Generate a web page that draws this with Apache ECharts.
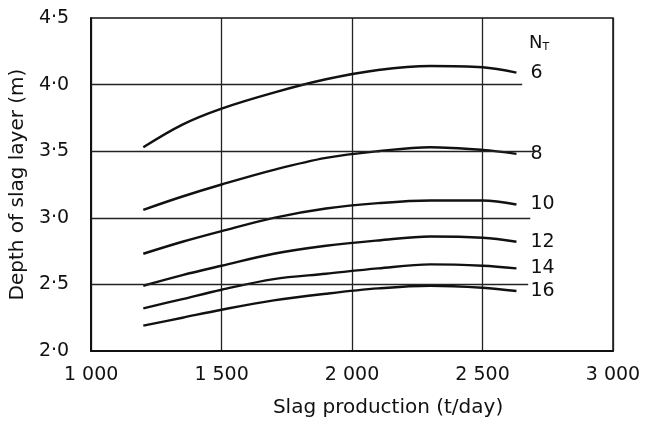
<!DOCTYPE html>
<html>
<head>
<meta charset="utf-8">
<script src="https://cdn.jsdelivr.net/npm/echarts@6/dist/echarts.min.js"></script>
<style>
  html, body { margin: 0; padding: 0; background: #fff; }
  #main { width: 649px; height: 423px; }
</style>
</head>
<body>
<div id="main"></div>
<script>
// slag production (t/day)
var xProd = [1200, 1350, 1500, 1700, 1900, 2100, 2300, 2500, 2630];
var nrNames = ['6', '8', '10', '12', '14', '16'];
// depth of slag layer (m) for each Nr
var depth6  = [3.53, 3.70, 3.82, 3.94, 4.04, 4.11, 4.14, 4.13, 4.09];
var depth8  = [3.06, 3.16, 3.25, 3.36, 3.45, 3.50, 3.53, 3.51, 3.48];
var depth10 = [2.73, 2.82, 2.90, 3.00, 3.07, 3.11, 3.13, 3.13, 3.10];
var depth12 = [2.49, 2.57, 2.64, 2.73, 2.79, 2.83, 2.86, 2.85, 2.82];
var depth14 = [2.32, 2.39, 2.46, 2.54, 2.58, 2.62, 2.65, 2.64, 2.62];
var depth16 = [2.19, 2.25, 2.31, 2.38, 2.43, 2.47, 2.49, 2.475, 2.45];
var allDepth = [depth6, depth8, depth10, depth12, depth14, depth16];

// horizontal rules and where they stop on the x scale
var ruleY = [2.5, 3.0, 3.5, 4.0];
var ruleEnd = [2675, 2683, 2700, 2652];

var myChart = echarts.init(document.getElementById('main'));
var font = 'DejaVu Sans';

var series = [];
for (let i = 0; i < allDepth.length; i++) {
    var pts = [];
    for (let j = 0; j < xProd.length; j++) {
        pts.push([xProd[j], allDepth[i][j]]);
    }
    series.push({
        name: nrNames[i],
        type: 'line',
        smooth: 0.35,
        symbol: 'none',
        silent: true,
        lineStyle: { color: '#111', width: 2.4 },
        endLabel: {
            show: true,
            formatter: '{a}',
            distance: 14,
            color: '#111',
            fontFamily: font,
            fontSize: 19
        },
        data: pts
    });
}

var rules = [];
for (let i = 0; i < ruleY.length; i++) {
    rules.push([{ coord: [1000, ruleY[i]] }, { coord: [ruleEnd[i], ruleY[i]] }]);
}
series.push({
    type: 'line',
    data: [],
    silent: true,
    markLine: {
        symbol: 'none',
        silent: true,
        label: { show: false },
        lineStyle: { color: '#222', width: 1.3, type: 'solid' },
        data: rules
    }
});

var option = {
    animation: false,
    grid: {
        left: 90, right: 36, top: 18, bottom: 68,
        show: true, borderColor: '#111', borderWidth: 1.5
    },
    graphic: [{
        type: 'text',
        left: 529, top: 34,
        style: {
            text: 'N{s|T}',
            fill: '#111',
            font: '18px DejaVu Sans',
            rich: { s: { fontSize: 11, fontFamily: font, fill: '#111', padding: [8, 0, 0, 0] } }
        }
    }],
    xAxis: {
        type: 'value',
        min: 1000, max: 3000, interval: 500,
        name: 'Slag production (t/day)',
        nameLocation: 'middle',
        nameGap: 47,
        nameTextStyle: { fontFamily: font, fontSize: 20, color: '#111', padding: [0, 0, 0, 72] },
        axisLine: { lineStyle: { color: '#111', width: 2 } },
        axisTick: { show: false },
        axisLabel: {
            margin: 15, color: '#111', fontFamily: font, fontSize: 19,
            formatter: function (v) { return String(v).replace(/(\d)(\d{3})$/, '$1 $2'); }
        },
        splitLine: { show: true, lineStyle: { color: '#222', width: 1.3 } }
    },
    yAxis: {
        type: 'value',
        min: 2, max: 4.5, interval: 0.5,
        name: 'Depth of slag layer (m)',
        nameLocation: 'middle',
        nameGap: 50,
        nameTextStyle: { fontFamily: font, fontSize: 20, color: '#111' },
        axisLine: { show: true, lineStyle: { color: '#111', width: 2 } },
        axisTick: { show: false },
        axisLabel: {
            margin: 22, color: '#111', fontFamily: font, fontSize: 19,
            formatter: function (v) { return v.toFixed(1).replace('.', '·'); }
        },
        splitLine: { show: false }
    },
    series: series
};

option && myChart.setOption(option);
</script>
</body>
</html>
